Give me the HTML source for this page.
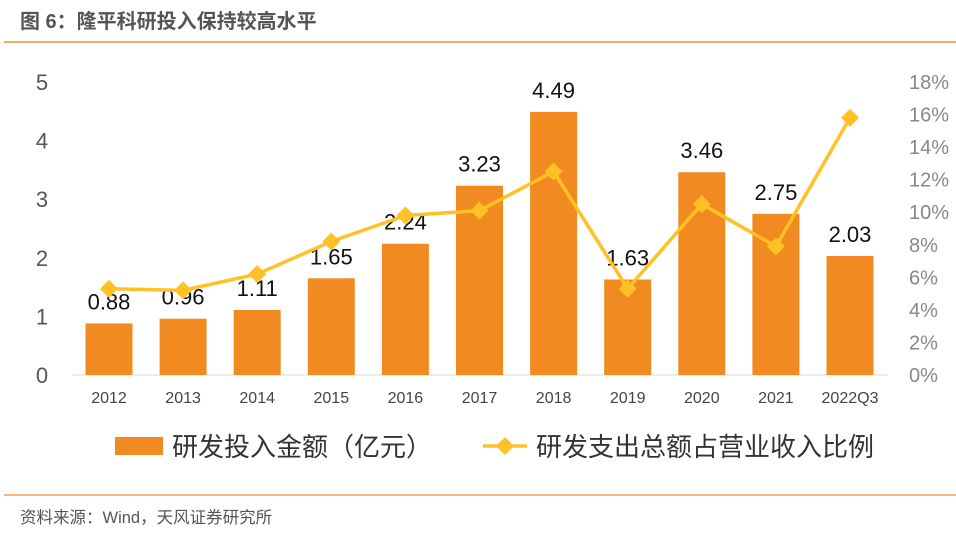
<!DOCTYPE html>
<html><head><meta charset="utf-8"><style>
body{margin:0;width:956px;height:530px;background:#fff;overflow:hidden;font-family:"Liberation Sans","Noto Sans CJK SC",sans-serif;}
</style></head><body>
<svg width="956" height="530" xmlns="http://www.w3.org/2000/svg">
<text x="20" y="28" font-size="20" font-weight="bold" fill="#555" font-family="Liberation Sans, Noto Sans CJK SC, sans-serif">图 6：隆平科研投入保持较高水平</text>
<line x1="4" y1="42" x2="956" y2="42" stroke="#F28A2A" stroke-width="1.5"/>
<g id="plot"></g>
<line x1="4" y1="495" x2="956" y2="495" stroke="#F28A2A" stroke-width="1.2"/>
<text x="20" y="523" font-size="16.5" fill="#555" font-family="Liberation Sans, Noto Sans CJK SC, sans-serif">资料来源：Wind，天风证券研究所</text>
</svg>
<script>
const categories=["2012","2013","2014","2015","2016","2017","2018","2019","2020","2021","2022Q3"];
const rdValues=[0.88,0.96,1.11,1.65,2.24,3.23,4.49,1.63,3.46,2.75,2.03];
const ratioValues=[5.3,5.2,6.2,8.2,9.8,10.1,12.5,5.3,10.5,7.9,15.8];
const leftTicks=[0,1,2,3,4,5];
const rightTicks=[0,2,4,6,8,10,12,14,16,18];
const NS="http://www.w3.org/2000/svg";
const g=document.getElementById("plot");
const y0=375,yTop=82;
const yL=v=>y0-(v/5)*(y0-yTop);
const yR=v=>y0-(v/18)*(y0-yTop);
const xC=i=>109+i*74.1;
function mk(tag,attrs,txt){const e=document.createElementNS(NS,tag);for(const k in attrs)e.setAttribute(k,attrs[k]);if(txt!==undefined)e.textContent=txt;g.appendChild(e);return e;}
leftTicks.forEach(t=>{const e=mk("text",{x:42,y:yL(t)+8,"font-size":22,fill:"#555","text-anchor":"middle"},t);

});
rightTicks.forEach(t=>{const e=mk("text",{x:909,y:yR(t)+7,"font-size":20,fill:"#888"},t+"%");

});
const ax=mk("line",{x1:72,y1:y0,x2:888,y2:y0,stroke:"#d9d9d9","stroke-width":1});


categories.forEach((c,i)=>{
 const v=rdValues[i];
 const b=mk("rect",{x:xC(i)-23.5,y:yL(v),width:47,height:y0-yL(v),fill:"#F28A22"});
 
 
 const l=mk("text",{x:xC(i),y:yL(v)-14,"font-size":22,fill:"#111","text-anchor":"middle"},v.toFixed(2));
 
 
 const t=mk("text",{x:xC(i),y:403,"font-size":16,fill:"#444","text-anchor":"middle"},c);
 
 
});
const pl=mk("polyline",{points:ratioValues.map((v,i)=>xC(i)+","+yR(v)).join(" "),fill:"none",stroke:"#FFC125","stroke-width":3.5});


ratioValues.forEach((v,i)=>{
 const x=xC(i),y=yR(v);
 const d=mk("polygon",{points:`${x},${y-9} ${x+9},${y} ${x},${y+9} ${x-9},${y}`,fill:"#FFC125"});
 
 
});
const lb=mk("rect",{x:115,y:437,width:48,height:18,fill:"#F28A22"});


const lt=mk("text",{x:172,y:456,"font-size":26,fill:"#333"},"研发投入金额（亿元）");


const ll=mk("line",{x1:483,y1:446,x2:527,y2:446,stroke:"#FFC125","stroke-width":3.5});


const lm=mk("polygon",{points:"505,437 514,446 505,455 496,446",fill:"#FFC125"});


const lt2=mk("text",{x:536,y:456,"font-size":26,fill:"#333"},"研发支出总额占营业收入比例");


</script>
</body></html>
